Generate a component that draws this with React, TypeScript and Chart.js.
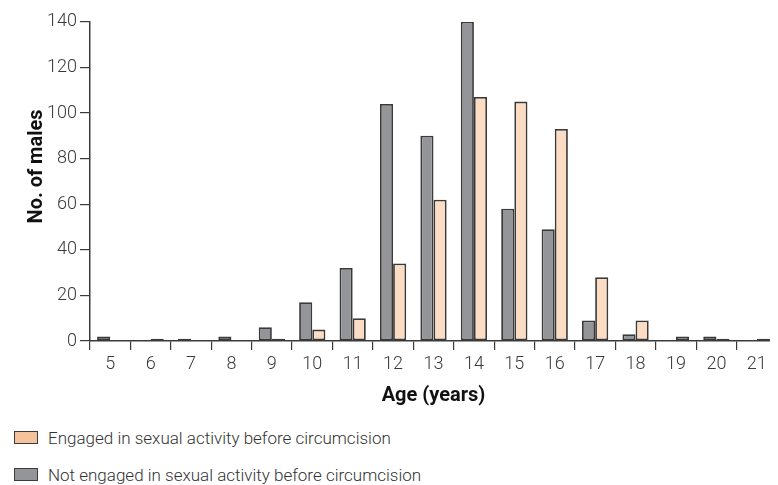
import React, { useEffect, useRef } from "react";
import { Chart, registerables } from "chart.js";

Chart.register(...registerables);

const ages = ["5", "6", "7", "8", "9", "10", "11", "12", "13", "14", "15", "16", "17", "18", "19", "20", "21"];
const notEngaged = [2, 0, 1, 2, 6, 17, 32, 104, 90, 140, 58, 49, 9, 3, 0, 2, 0];
const engaged = [0, 1, 0, 0, 1, 5, 10, 34, 62, 107, 105, 93, 28, 9, 2, 1, 1];
const yTicks = [0, 20, 40, 60, 80, 100, 120, 140];

const legendItems = [
  { label: "Engaged in sexual activity before circumcision", color: "#f5c39b" },
  { label: "Not engaged in sexual activity before circumcision", color: "#939598" },
];

const FONT = "Roboto, 'DejaVu Sans Condensed', sans-serif";
const AXIS = "#3a3a3a";

export default function App() {
  const ref = useRef<HTMLCanvasElement | null>(null);

  useEffect(() => {
    if (!ref.current) return;
    const chart = new Chart(ref.current, {
      type: "bar",
      data: {
        labels: ages,
        datasets: [
          {
            label: "Not engaged in sexual activity before circumcision",
            data: notEngaged,
            backgroundColor: "#939598",
            borderColor: "#3a3a3a",
            borderWidth: 1.8,
            borderSkipped: false,
            categoryPercentage: 0.65,
            barPercentage: 1.0,
          },
          {
            label: "Engaged in sexual activity before circumcision",
            data: engaged,
            backgroundColor: "#fddcc4",
            borderColor: "#3a3a3a",
            borderWidth: 1.8,
            borderSkipped: false,
            categoryPercentage: 0.65,
            barPercentage: 1.0,
          },
        ],
      },
      options: {
        responsive: false,
        animation: false,
        devicePixelRatio: 1,
        layout: { padding: { top: 10, right: 1, bottom: 0, left: 0 } },
        plugins: {
          legend: { display: false },
          tooltip: { enabled: false },
        },
        scales: {
          x: {
            offset: true,
            grid: {
              offset: true,
              drawOnChartArea: false,
              drawTicks: true,
              tickLength: 9,
              color: AXIS,
              lineWidth: 1.2,
            },
            border: { color: AXIS, width: 1.5 },
            ticks: {
              color: "#3a3a3a",
              font: { family: FONT, size: 18, weight: "300" },
              padding: 4,
              maxRotation: 0,
              autoSkip: false,
            },
            title: {
              display: true,
              text: "Age (years)",
              color: "#111",
              font: { family: FONT, size: 20, weight: "bold" },
              padding: { top: 0, bottom: 0 },
            },
            afterFit: (scale: any) => {
              scale.height = 67;
            },
          },
          y: {
            min: 0,
            max: 140,
            afterBuildTicks: (scale: any) => {
              scale.ticks = yTicks.map((v) => ({ value: v }));
            },
            grid: {
              drawOnChartArea: false,
              drawTicks: true,
              tickLength: 10,
              color: AXIS,
              lineWidth: 1.2,
            },
            border: { color: AXIS, width: 1.5 },
            ticks: {
              color: "#3a3a3a",
              font: { family: FONT, size: 18, weight: "300" },
              padding: 3,
            },
            title: {
              display: true,
              text: "\u00a0\u00a0\u00a0\u00a0\u00a0\u00a0No. of males",
              color: "#111",
              font: { family: FONT, size: 20, weight: "bold" },
              padding: { top: 17, bottom: 0 },
            },
            afterFit: (scale: any) => {
              scale.width = 82;
            },
          },
        },
      },
    });
    return () => chart.destroy();
  }, []);

  return (
    <div style={{ fontFamily: FONT }}>
      <canvas ref={ref} width={770} height={400} style={{ display: "block", width: 770, height: 400 }} />
      <div style={{ marginTop: 11 }}>
        {legendItems.map((it) => (
          <div
            key={it.label}
            style={{ height: 37, display: "flex", alignItems: "center", color: "#333", fontSize: 17, fontWeight: 300 }}
          >
            <span
              style={{
                display: "inline-block",
                width: 22,
                height: 11,
                marginLeft: 6,
                marginRight: 10,
                background: it.color,
                border: "1.5px solid #3c3c3c",
              }}
            />
            <span>{it.label}</span>
          </div>
        ))}
      </div>
    </div>
  );
}
